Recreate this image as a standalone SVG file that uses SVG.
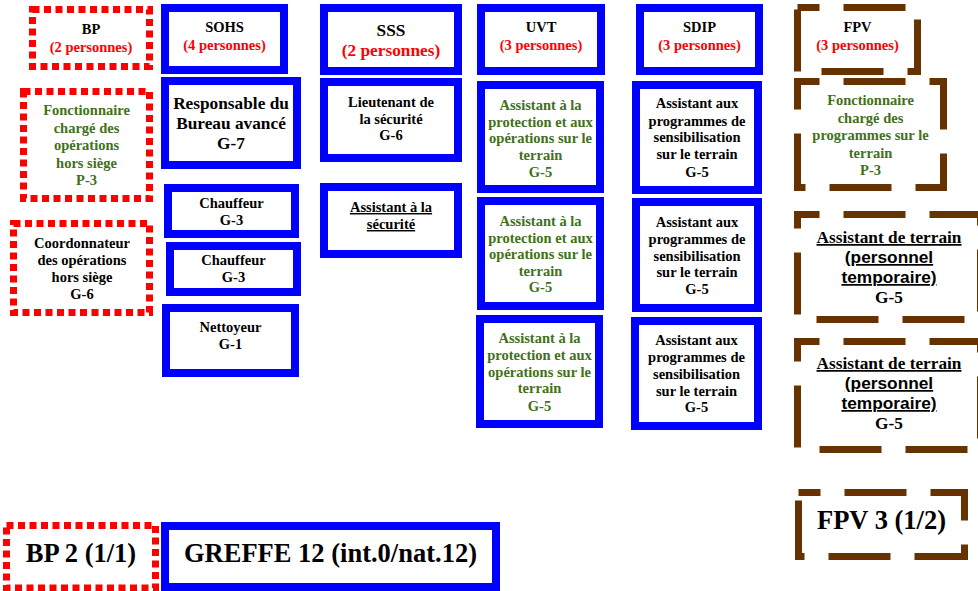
<svg xmlns="http://www.w3.org/2000/svg" width="978" height="591" viewBox="0 0 978 591">
<style>
.bg{fill:#fff}
.blue{fill:#fff;stroke:#0000FF;stroke-width:8}
.red{fill:#fff;stroke:#FF0000;stroke-width:7;stroke-dasharray:7 4.5}
.brown{fill:#fff;stroke:#663300;stroke-width:7;stroke-dasharray:62 24;stroke-dashoffset:40}
text{font-family:"Liberation Serif","Times New Roman",serif;font-weight:bold;text-anchor:middle;fill:#000}
.s{font-size:14.5px}
.m{font-size:17.3px}
.l{font-size:26.5px}
.r{fill:#FF0000}
.g{fill:#41701A}
.u{text-decoration:underline}
.sans{font-family:"Liberation Sans",Arial,sans-serif}
</style>
<rect class="bg" x="0" y="0" width="978" height="591"/>
<g id="connectors"></g>
<g id="bp"><rect class="red" x="32.5" y="9.5" width="117" height="57"/>
<text class="s" x="91" y="34">BP</text><text class="s r" x="91" y="52">(2 personnes)</text></g>
<g id="bp-fonct"><rect class="red" x="23.5" y="91.5" width="126" height="107"/>
<text class="s g" x="86.5" y="115">Fonctionnaire</text><text class="s g" x="86.5" y="132.5">chargé des</text><text class="s g" x="86.5" y="150">opérations</text><text class="s g" x="86.5" y="167.5">hors siège</text><text class="s g" x="86.5" y="185">P-3</text></g>
<g id="bp-coord"><rect class="red" x="13.5" y="223.5" width="136" height="89"/>
<text class="s" x="82" y="248">Coordonnateur</text><text class="s" x="82" y="265">des opérations</text><text class="s" x="82" y="282">hors siège</text><text class="s" x="82" y="299">G-6</text></g>
<g id="sohs"><rect class="blue" x="165" y="8" width="119" height="62"/>
<text class="s" x="224.5" y="32">SOHS</text><text class="s r" x="224.5" y="50">(4 personnes)</text></g>
<g id="sohs-resp"><rect class="blue" x="165" y="81" width="132" height="84"/>
<text class="m" x="231" y="109">Responsable du</text><text class="m" x="231" y="129">Bureau avancé</text><text class="m" x="231" y="149">G-7</text></g>
<g id="sohs-chauf1"><rect class="blue" x="168" y="188" width="127" height="46"/>
<text class="s" x="231.5" y="208">Chauffeur</text><text class="s" x="231.5" y="225">G-3</text></g>
<g id="sohs-chauf2"><rect class="blue" x="170" y="246" width="127" height="46"/>
<text class="s" x="233.5" y="265">Chauffeur</text><text class="s" x="233.5" y="282">G-3</text></g>
<g id="sohs-nett"><rect class="blue" x="166" y="308" width="129" height="65"/>
<text class="s" x="230.5" y="332">Nettoyeur</text><text class="s" x="230.5" y="349">G-1</text></g>
<g id="sss"><rect class="blue" x="324" y="8" width="134" height="63"/>
<text class="m" x="391" y="36">SSS</text><text class="m r" x="391" y="56">(2 personnes)</text></g>
<g id="sss-lieut"><rect class="blue" x="324" y="82" width="134" height="76"/>
<text class="s" x="391" y="107">Lieutenant de</text><text class="s" x="391" y="124">la sécurité</text><text class="s" x="391" y="140">G-6</text></g>
<g id="sss-asst"><rect class="blue" x="324" y="187" width="134" height="67"/>
<text class="s u" x="391" y="212">Assistant à la</text><text class="s u" x="391" y="229">sécurité</text></g>
<g id="uvt"><rect class="blue" x="481" y="8" width="120" height="63"/>
<text class="s" x="541" y="32">UVT</text><text class="s r" x="541" y="50">(3 personnes)</text></g>
<g id="uvt-a1"><rect class="blue" x="481" y="85" width="119" height="104"/>
<text class="s g" x="540.5" y="110">Assistant à la</text><text class="s g" x="540.5" y="127">protection et aux</text><text class="s g" x="540.5" y="143">opérations sur le</text><text class="s g" x="540.5" y="160">terrain</text><text class="s g" x="540.5" y="177">G-5</text></g>
<g id="uvt-a2"><rect class="blue" x="481" y="201" width="119" height="105"/>
<text class="s g" x="540.5" y="226">Assistant à la</text><text class="s g" x="540.5" y="243">protection et aux</text><text class="s g" x="540.5" y="259">opérations sur le</text><text class="s g" x="540.5" y="276">terrain</text><text class="s g" x="540.5" y="292">G-5</text></g>
<g id="uvt-a3"><rect class="blue" x="480" y="319" width="119" height="105"/>
<text class="s g" x="539.5" y="343">Assistant à la</text><text class="s g" x="539.5" y="360">protection et aux</text><text class="s g" x="539.5" y="377">opérations sur le</text><text class="s g" x="539.5" y="393">terrain</text><text class="s g" x="539.5" y="411">G-5</text></g>
<g id="sdip"><rect class="blue" x="640" y="8" width="119" height="63"/>
<text class="s" x="699.5" y="32">SDIP</text><text class="s r" x="699.5" y="50">(3 personnes)</text></g>
<g id="sdip-a1"><rect class="blue" x="636" y="85" width="122" height="105"/>
<text class="s" x="697" y="108">Assistant aux</text><text class="s" x="697" y="126">programmes de</text><text class="s" x="697" y="142">sensibilisation</text><text class="s" x="697" y="159">sur le terrain</text><text class="s" x="697" y="177">G-5</text></g>
<g id="sdip-a2"><rect class="blue" x="636" y="202" width="122" height="106"/>
<text class="s" x="697" y="227">Assistant aux</text><text class="s" x="697" y="244">programmes de</text><text class="s" x="697" y="261">sensibilisation</text><text class="s" x="697" y="277">sur le terrain</text><text class="s" x="697" y="294">G-5</text></g>
<g id="sdip-a3"><rect class="blue" x="635" y="321" width="123" height="105"/>
<text class="s" x="696.5" y="345">Assistant aux</text><text class="s" x="696.5" y="362">programmes de</text><text class="s" x="696.5" y="379">sensibilisation</text><text class="s" x="696.5" y="396">sur le terrain</text><text class="s" x="696.5" y="412">G-5</text></g>
<g id="fpv"><rect class="brown" x="797.5" y="7.5" width="120" height="64"/>
<text class="s" x="857.5" y="32">FPV</text><text class="s r" x="857.5" y="50">(3 personnes)</text></g>
<g id="fpv-fonct"><rect class="brown" x="797.5" y="81.5" width="146" height="106"/>
<text class="s g" x="870.5" y="105">Fonctionnaire</text><text class="s g" x="870.5" y="122.5">chargé des</text><text class="s g" x="870.5" y="140">programmes sur le</text><text class="s g" x="870.5" y="157.5">terrain</text><text class="s g" x="870.5" y="175">P-3</text></g>
<g id="fpv-at1"><rect class="brown" x="797.5" y="214.5" width="183" height="105"/>
<text class="m u" x="889" y="243">Assistant de terrain</text><text class="m u sans" x="889" y="263">(personnel</text><text class="m u sans" x="889" y="283">temporaire)</text><text class="m" x="889" y="303">G-5</text></g>
<g id="fpv-at2"><rect class="brown" x="797.5" y="341.5" width="183" height="108"/>
<text class="m u" x="889" y="369">Assistant de terrain</text><text class="m u sans" x="889" y="389">(personnel</text><text class="m u sans" x="889" y="409">temporaire)</text><text class="m" x="889" y="429">G-5</text></g>
<g id="fpv-total"><rect class="brown" x="798.5" y="492.5" width="166" height="64"/>
<text class="l" x="881.5" y="529">FPV 3 (1/2)</text></g>
<g id="bp-total"><rect class="red" x="6.5" y="525.5" width="149" height="62.5"/>
<text class="l" x="81" y="562">BP 2 (1/1)</text></g>
<g id="greffe"><rect class="blue" x="165" y="526" width="331" height="61"/>
<text class="l" x="330.5" y="562">GREFFE 12 (int.0/nat.12)</text></g>
</svg>
